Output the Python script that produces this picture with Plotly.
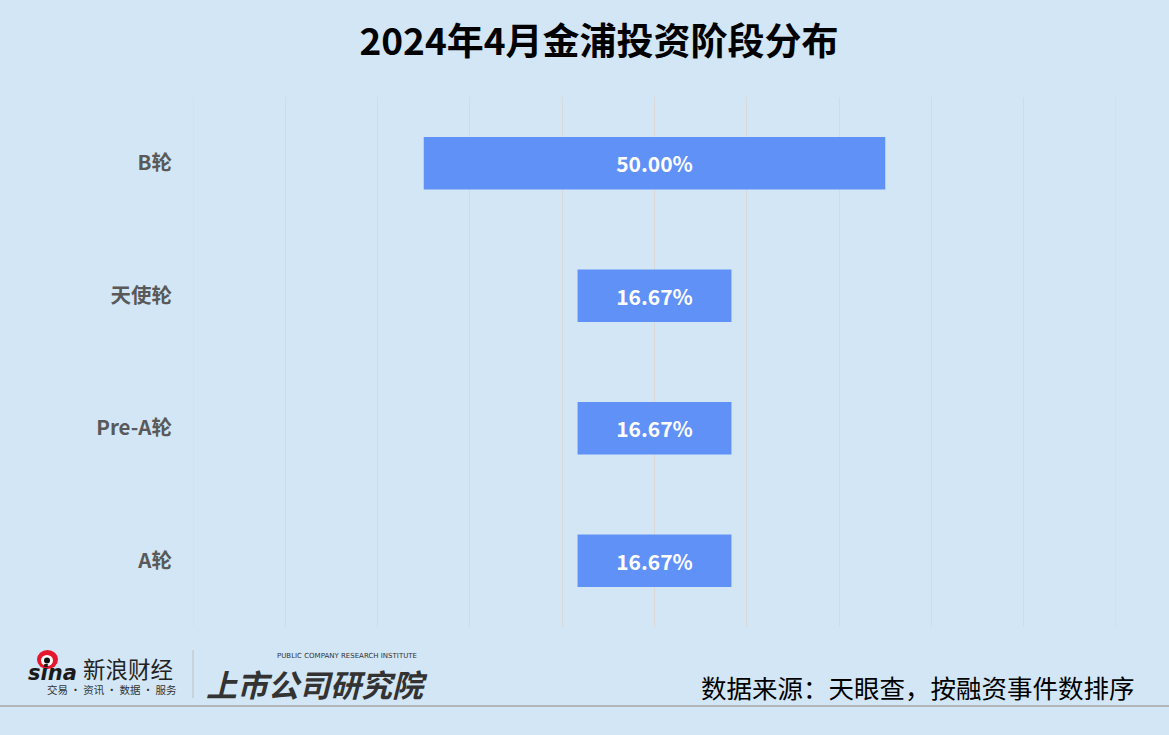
import plotly.graph_objects as go

categories = ["B轮", "天使轮", "Pre-A轮", "A轮"]
values = [50.00, 16.67, 16.67, 16.67]
labels = ["50.00%", "16.67%", "16.67%", "16.67%"]

title = "2024年4月金浦投资阶段分布"
source = "数据来源：天眼查，按融资事件数排序"

W, H = 1169, 735
L, R, T, B = 193, 53, 97, 108
bg = "#D2E6F5"
cjk = "Noto Sans CJK SC"

fig = go.Figure()
fig.add_trace(go.Bar(
    y=categories,
    x=values,
    base=[-v / 2 for v in values],
    orientation="h",
    marker=dict(color="#6091F7", line=dict(width=0)),
    width=0.395,
    text=labels,
    textposition="inside",
    insidetextanchor="middle",
    textfont=dict(family=cjk, size=21, color="white", weight="bold"),
    hoverinfo="skip",
))

fig.update_layout(
    width=W, height=H,
    paper_bgcolor=bg, plot_bgcolor=bg,
    margin=dict(l=L, r=R, t=T, b=B),
    showlegend=False,
    title=dict(text=title, x=599 / W, xanchor="center", y=1 - 42 / H, yanchor="middle",
               font=dict(family=cjk, size=37, color="#000000", weight="bold")),
    xaxis=dict(range=[-50, 50], dtick=10, tick0=0, showgrid=True, gridcolor="#D9D9D9",
               gridwidth=1, zeroline=False, showticklabels=False, showline=False, fixedrange=True),
    yaxis=dict(autorange="reversed", showgrid=False, zeroline=False, showline=False,
               ticks="", ticklabelstandoff=20, fixedrange=True,
               tickfont=dict(family=cjk, size=20.5, color="#595959", weight="bold")),
    font=dict(family=cjk),
)

# edge gridlines (plotly omits grid lines on the range boundaries)
for xv in (-50, 50):
    fig.add_shape(type="line", xref="x", yref="paper", x0=xv, x1=xv, y0=0, y1=1,
                  line=dict(color="#D9D9D9", width=1), layer="below")

def px(x):
    return (x - L) / (W - L - R)

def py(y):
    return ((H - B) - y) / (H - T - B)

# bottom rule
fig.add_shape(type="line", xref="paper", yref="paper",
              x0=px(0), x1=px(W), y0=py(706), y1=py(706),
              line=dict(color="#A6A6A6", width=1.5))

# logo separator
fig.add_shape(type="line", xref="paper", yref="paper",
              x0=px(193), x1=px(193), y0=py(650), y1=py(698),
              line=dict(color="#BFBFBF", width=1))

# sina eye
fig.add_shape(type="circle", xref="paper", yref="paper",
              x0=px(37), x1=px(58), y0=py(669), y1=py(650),
              fillcolor="#E6162D", line=dict(width=0))
fig.add_shape(type="circle", xref="paper", yref="paper",
              x0=px(41), x1=px(53), y0=py(666), y1=py(655),
              fillcolor="#FFFFFF", line=dict(width=0))
fig.add_shape(type="circle", xref="paper", yref="paper",
              x0=px(44), x1=px(50), y0=py(663.5), y1=py(657.5),
              fillcolor="#111111", line=dict(width=0))

annos = [
    dict(text="<i><b>sina</b></i>", x=px(26), y=py(673), xanchor="left",
         font=dict(family="DejaVu Sans", size=21, color="#1a1a1a")),
    dict(text="新浪财经", x=px(81), y=py(668), xanchor="left",
         font=dict(family=cjk, size=22.5, color="#222222")),
    dict(text="交易 · 资讯 · 数据 · 服务", x=px(45), y=py(689), xanchor="left",
         font=dict(family=cjk, size=10.5, color="#333333")),
    dict(text="<b><i>上市公司研究院</i></b>", x=px(204), y=py(683), xanchor="left",
         font=dict(family=cjk, size=31, color="#333333")),
    dict(text="PUBLIC COMPANY RESEARCH INSTITUTE", x=px(275), y=py(656), xanchor="left",
         font=dict(family="DejaVu Sans", size=7, color="#333333")),
    dict(text=source, x=px(1137), y=py(686), xanchor="right",
         font=dict(family=cjk, size=25.5, color="#000000")),
]
for a in annos:
    fig.add_annotation(xref="paper", yref="paper", showarrow=False, yanchor="middle", **a)

fig.write_html("out.html", config={"displayModeBar": False},
               post_script="document.body.style.margin='0';")
